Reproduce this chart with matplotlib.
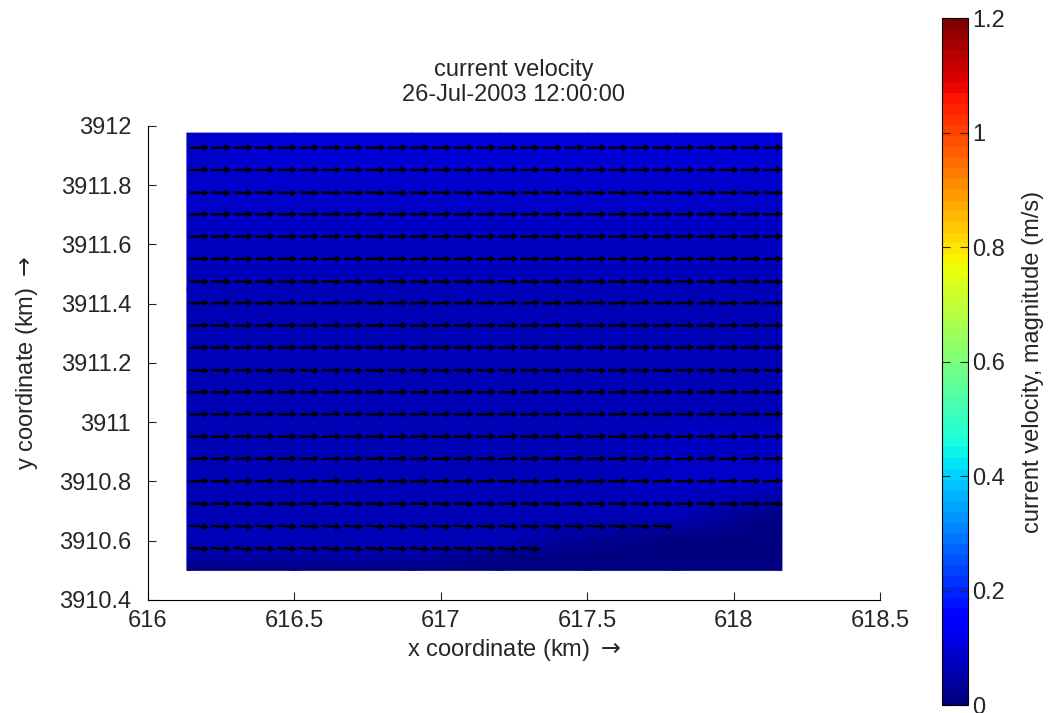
import numpy as np
import matplotlib
matplotlib.use("Agg")
import matplotlib.pyplot as plt
from matplotlib.ticker import FuncFormatter

plt.rcParams['font.family'] = ['Liberation Sans', 'DejaVu Sans']
plt.rcParams['mathtext.fontset'] = 'dejavusans'

# background speed field (m/s), coarse grid, rows top -> bottom
grid_x = [616.133, 616.5, 616.9, 617.2, 617.5, 617.8, 618.165]
grid_y = [3911.976, 3911.75, 3911.45, 3911.1, 3910.8, 3910.68, 3910.60, 3910.54, 3910.50]
speed = [
    [0.092, 0.097, 0.108, 0.112, 0.108, 0.102, 0.097],
    [0.082, 0.084, 0.088, 0.088, 0.088, 0.084, 0.082],
    [0.070, 0.070, 0.070, 0.072, 0.072, 0.070, 0.070],
    [0.066, 0.066, 0.066, 0.067, 0.069, 0.069, 0.069],
    [0.066, 0.066, 0.068, 0.070, 0.074, 0.077, 0.077],
    [0.066, 0.067, 0.070, 0.072, 0.074, 0.062, 0.015],
    [0.064, 0.066, 0.068, 0.066, 0.025, 0.005, 0.000],
    [0.052, 0.052, 0.044, 0.015, 0.000, 0.000, 0.000],
    [0.008, 0.008, 0.004, 0.000, 0.000, 0.000, 0.000],
]

# quiver grid (tails), 27 columns x 19 rows
arrow_x0 = 616.14
arrow_dx = 0.0754
arrow_y0 = 3911.926
arrow_dy = 0.075
# direction per row (degrees from east), top -> bottom
row_angle = [1, 1, -2, 2, 2, 1, -2, 2, 1, 2, -2, 1, 2, 1, 2, 1, -2, -4, -5]
# number of wet columns per row (dry cells have no arrow)
row_wet = [27, 27, 27, 27, 27, 27, 27, 27, 27, 27, 27, 27, 27, 27, 27, 27, 27, 22, 16]

xticks = [616, 616.5, 617, 617.5, 618, 618.5]
yticks = [3910.4, 3910.6, 3910.8, 3911, 3911.2, 3911.4, 3911.6, 3911.8, 3912]
cticks = [0, 0.2, 0.4, 0.6, 0.8, 1.0, 1.2]

fig = plt.figure(figsize=(10.48, 7.13), dpi=100)
ax = fig.add_axes([0.1412, 0.1585, 0.6985, 0.6648])
cax = fig.add_axes([0.8989, 0.0112, 0.0248, 0.9635])

cmap = plt.get_cmap('jet', 64)
X, Y = np.meshgrid(grid_x, grid_y)
mesh = ax.pcolormesh(X, Y, np.array(speed), cmap=cmap, vmin=0, vmax=1.2,
                     shading='gouraud')

# arrows
qx, qy, qu, qv = [], [], [], []
for r, (ang, nwet) in enumerate(zip(row_angle, row_wet)):
    for c in range(nwet):
        qx.append(arrow_x0 + c * arrow_dx)
        qy.append(arrow_y0 - r * arrow_dy)
        qu.append(np.cos(np.radians(ang)))
        qv.append(np.sin(np.radians(ang)))
ax.quiver(qx, qy, qu, qv, angles='xy', scale_units='xy', scale=1 / 0.068,
          color='black', width=0.0032, headwidth=3.2, headlength=2.8,
          headaxislength=2.5, pivot='tail')

ax.set_xlim(616, 618.5)
ax.set_ylim(3910.4, 3912)
ax.set_xticks(xticks)
ax.set_yticks(yticks)
fmt = FuncFormatter(lambda v, p: '%g' % round(v, 4))
ax.xaxis.set_major_formatter(fmt)
ax.yaxis.set_major_formatter(fmt)
ax.spines['top'].set_visible(False)
ax.spines['right'].set_visible(False)
ax.tick_params(direction='in', length=6, labelsize=17, colors='#262626')
ax.tick_params(axis='y', pad=12)
ax.tick_params(axis='x', pad=7)
ax.set_xlabel(r'x coordinate (km) $\rightarrow$', fontsize=17, color='#262626',
              labelpad=4)
ax.set_ylabel(r'y coordinate (km) $\rightarrow$', fontsize=17, color='#262626',
              labelpad=14)
ax.set_title('current velocity\n26-Jul-2003 12:00:00', fontsize=17,
             color='#262626', pad=18, linespacing=1.15)

cb = fig.colorbar(mesh, cax=cax, ticks=cticks)
cb.ax.yaxis.set_major_formatter(fmt)
cb.ax.tick_params(direction='in', length=6, labelsize=17, colors='#262626',
                  left=True, right=True, pad=3)
cb.set_label('current velocity, magnitude (m/s)', fontsize=17, color='#262626',
             labelpad=12)

fig.savefig('out.png', dpi=100)
